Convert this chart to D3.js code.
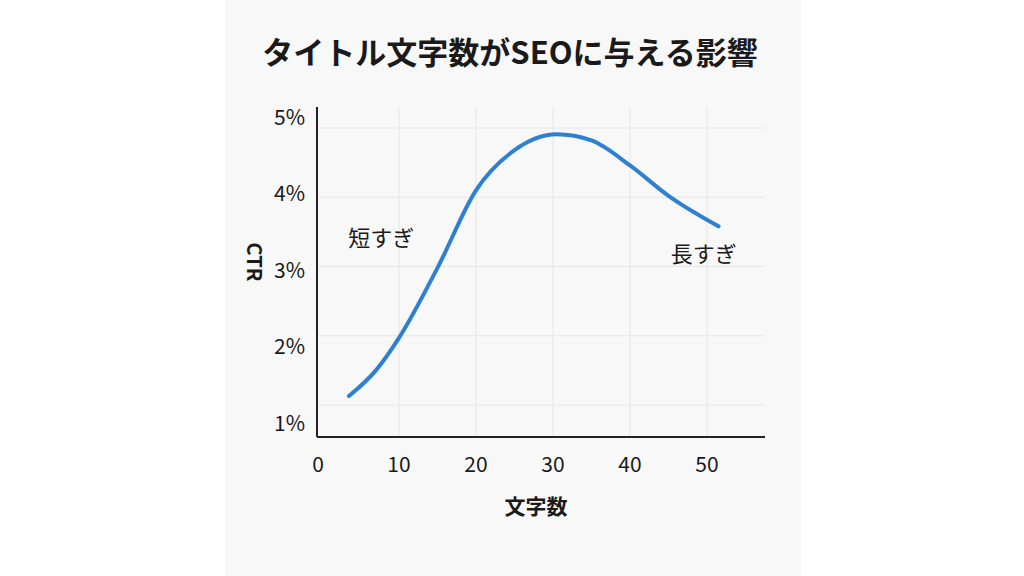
<!DOCTYPE html>
<html><head><meta charset="utf-8">
<script src="https://cdn.jsdelivr.net/npm/d3@7"></script>
<style>body{margin:0;background:#fff}svg{display:block}text{font-family:"Noto Sans CJK JP","Noto Sans",sans-serif;fill:#1a1a1a}</style>
</head><body><svg width="1024" height="576"></svg>
<script>
const title = "タイトル文字数がSEOに与える影響";
const xTicks = [0,10,20,30,40,50];
const yTicks = [1,2,3,4,5];
const charCount = [3.5,7,10,15,20,25,30.5,35,40,45,51.5];
const ctr = [1.13,1.5,1.97,2.98,4.1,4.68,4.91,4.82,4.46,4.02,3.58];
const notes = [{t:"短すぎ", x:3.4, y:3.3},{t:"長すぎ", x:45.3, y:3.07}];

const svg = d3.select("svg");
svg.append("rect").attr("x",225).attr("y",0).attr("width",576).attr("height",576).attr("fill","#f8f8f8");
const x = d3.scaleLinear().domain([0,10]).range([322,399]);
const y = d3.scaleLinear().domain([1,5]).range([405,128]);
const yLab = d3.scaleLinear().domain([1,5]).range([423,117]);
const x0 = 317, x1 = 765, yTop = 107, yBot = 437;

const g = svg.append("g");
g.selectAll(".vg").data(xTicks.slice(1)).join("line").attr("x1",d=>x(d)).attr("x2",d=>x(d)).attr("y1",yTop).attr("y2",yBot).attr("stroke","#e6e6e6");
g.selectAll(".hg").data(yTicks).join("line").attr("x1",x0).attr("x2",x1).attr("y1",d=>y(d)).attr("y2",d=>y(d)).attr("stroke","#e6e6e6");
g.append("line").attr("x1",x0).attr("x2",x0).attr("y1",yTop).attr("y2",yBot).attr("stroke","#222").attr("stroke-width",2);
g.append("line").attr("x1",x0).attr("x2",x1).attr("y1",yBot).attr("y2",yBot).attr("stroke","#222").attr("stroke-width",2);

g.selectAll(".xl").data(xTicks).join("text").attr("x",d=>d===0?318:x(d)).attr("y",472).attr("text-anchor","middle").attr("font-size",21).text(d=>d);
g.selectAll(".yl").data(yTicks).join("text").attr("x",305).attr("y",d=>yLab(d)).attr("dy","0.36em").attr("text-anchor","end").attr("font-size",21).text(d=>d+"%");

const line = d3.line().x((d,i)=>x(charCount[i])).y(d=>y(d)).curve(d3.curveMonotoneX);
g.append("path").attr("d",line(ctr)).attr("fill","none").attr("stroke","#2f80d1").attr("stroke-width",4).attr("stroke-linecap","round");

g.selectAll(".n").data(notes).join("text").attr("x",d=>x(d.x)).attr("y",d=>y(d.y)).attr("font-size",22).text(d=>d.t);

svg.append("text").attr("x",510).attr("y",64).attr("text-anchor","middle").attr("font-size",31).attr("font-weight","bold").text(title);
svg.append("text").attr("transform","translate(247,262) rotate(90)").attr("text-anchor","middle").attr("font-size",20).attr("font-weight","bold").text("CTR");
svg.append("text").attr("x",536).attr("y",514).attr("text-anchor","middle").attr("font-size",21).attr("font-weight","bold").text("文字数");
</script></body></html>
